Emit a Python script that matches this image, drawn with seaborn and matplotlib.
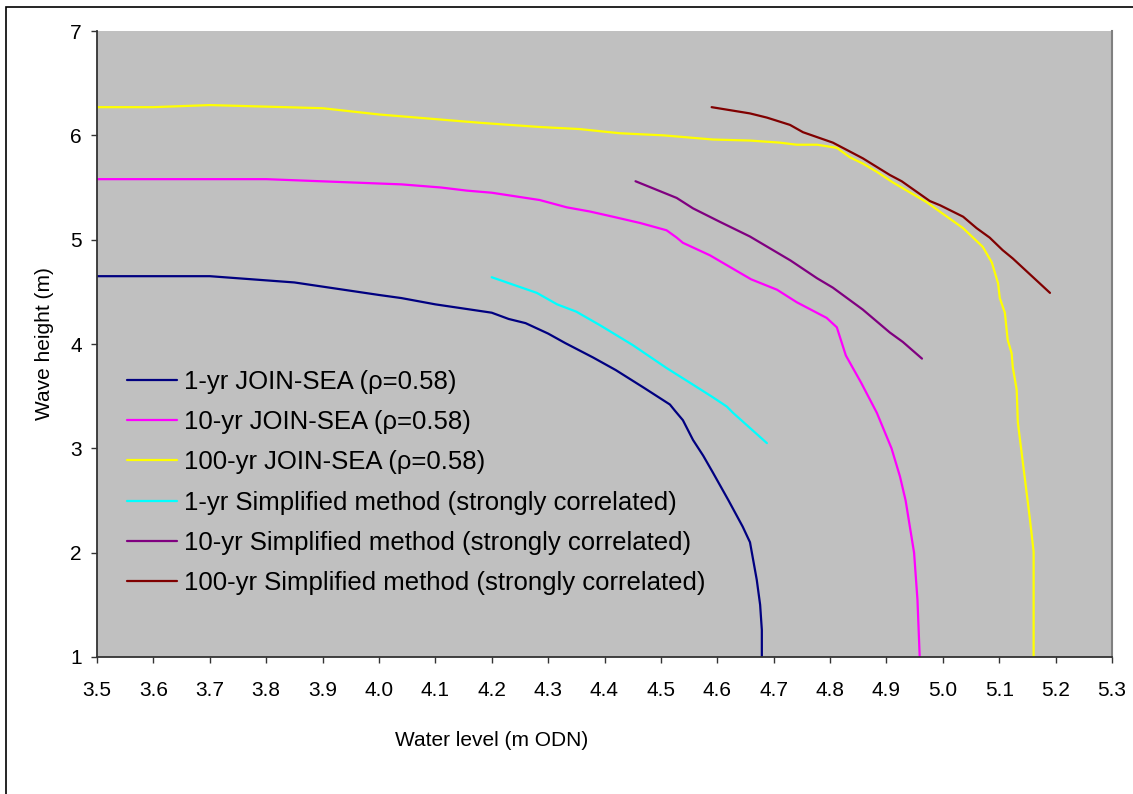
import pandas as pd
import matplotlib.pyplot as plt
import matplotlib.patches as mpatches
import seaborn as sns

# Joint probability contours: water level (m ODN) vs wave height (m)
wl_1yr = [3.50, 3.70, 3.85, 3.90, 4.00, 4.04, 4.10, 4.15, 4.20, 4.23, 4.26, 4.30, 4.33, 4.38,
          4.42, 4.47, 4.516, 4.525, 4.539, 4.557, 4.575, 4.592, 4.62, 4.645, 4.658, 4.670,
          4.676, 4.679, 4.679]
hs_1yr = [4.65, 4.65, 4.59, 4.55, 4.47, 4.44, 4.38, 4.34, 4.30, 4.24, 4.20, 4.10, 4.01, 3.87,
          3.75, 3.58, 3.42, 3.36, 3.27, 3.08, 2.93, 2.77, 2.50, 2.25, 2.10, 1.74,
          1.50, 1.26, 1.00]

wl_10yr = [3.50, 3.70, 3.80, 4.04, 4.11, 4.156, 4.20, 4.285, 4.333, 4.374, 4.415, 4.463, 4.51,
           4.528, 4.539, 4.587, 4.66, 4.706, 4.741, 4.794, 4.812, 4.828, 4.855, 4.883, 4.909,
           4.924, 4.934, 4.949, 4.955, 4.959]
hs_10yr = [5.58, 5.58, 5.58, 5.53, 5.50, 5.47, 5.45, 5.38, 5.31, 5.27, 5.22, 5.16, 5.09,
           5.02, 4.97, 4.85, 4.62, 4.52, 4.40, 4.25, 4.16, 3.89, 3.63, 3.34, 3.00,
           2.73, 2.50, 2.00, 1.55, 1.00]

wl_100yr = [3.50, 3.60, 3.70, 3.90, 4.00, 4.18, 4.285, 4.356, 4.427, 4.504, 4.592, 4.658,
            4.711, 4.741, 4.777, 4.812, 4.835, 4.858, 4.883, 4.911, 4.971, 5.036, 5.071,
            5.087, 5.098, 5.101, 5.11, 5.115, 5.122, 5.124, 5.131, 5.133, 5.145, 5.154,
            5.161, 5.161]
hs_100yr = [6.27, 6.27, 6.29, 6.26, 6.20, 6.12, 6.08, 6.06, 6.02, 6.00, 5.96, 5.95,
            5.93, 5.91, 5.91, 5.88, 5.79, 5.73, 5.65, 5.55, 5.36, 5.11, 4.93,
            4.78, 4.58, 4.44, 4.30, 4.04, 3.91, 3.78, 3.56, 3.25, 2.73, 2.34,
            2.01, 1.00]

wl_1yr_s = [4.20, 4.28, 4.316, 4.35, 4.392, 4.45, 4.51, 4.557, 4.592, 4.617, 4.628, 4.688]
hs_1yr_s = [4.64, 4.49, 4.38, 4.31, 4.18, 3.99, 3.77, 3.61, 3.49, 3.40, 3.34, 3.05]

wl_10yr_s = [4.455, 4.528, 4.557, 4.605, 4.658, 4.73, 4.777, 4.805, 4.858, 4.906, 4.929, 4.963]
hs_10yr_s = [5.56, 5.40, 5.30, 5.17, 5.03, 4.80, 4.63, 4.54, 4.33, 4.11, 4.02, 3.86]

wl_100yr_s = [4.590, 4.658, 4.688, 4.729, 4.752, 4.805, 4.858, 4.906, 4.927, 4.977, 4.995,
              5.036, 5.06, 5.083, 5.106, 5.124, 5.16, 5.19]
hs_100yr_s = [6.27, 6.21, 6.17, 6.10, 6.03, 5.93, 5.78, 5.62, 5.56, 5.37, 5.33,
              5.22, 5.11, 5.02, 4.90, 4.82, 4.64, 4.49]

labels = [
    "1-yr JOIN-SEA (\u03c1=0.58)",
    "10-yr JOIN-SEA (\u03c1=0.58)",
    "100-yr JOIN-SEA (\u03c1=0.58)",
    "1-yr Simplified method (strongly correlated)",
    "10-yr Simplified method (strongly correlated)",
    "100-yr Simplified method (strongly correlated)",
]
colors = ["#000080", "#FF00FF", "#FFFF00", "#00FFFF", "#800080", "#800000"]
x_ticks = [3.5, 3.6, 3.7, 3.8, 3.9, 4.0, 4.1, 4.2, 4.3, 4.4, 4.5, 4.6, 4.7, 4.8, 4.9,
           5.0, 5.1, 5.2, 5.3]
y_ticks = [1, 2, 3, 4, 5, 6, 7]

series = [(wl_1yr, hs_1yr), (wl_10yr, hs_10yr), (wl_100yr, hs_100yr),
          (wl_1yr_s, hs_1yr_s), (wl_10yr_s, hs_10yr_s), (wl_100yr_s, hs_100yr_s)]
frames = []
for lab, (wl, hs) in zip(labels, series):
    frames.append(pd.DataFrame({"wl": wl, "hs": hs, "series": lab}))
df = pd.concat(frames, ignore_index=True)

sns.set_theme(style="white")
plt.rcParams["font.family"] = ["Liberation Sans", "DejaVu Sans"]
plt.rcParams["text.color"] = "black"
plt.rcParams["axes.labelcolor"] = "black"
plt.rcParams["xtick.color"] = "black"
plt.rcParams["ytick.color"] = "black"

fig = plt.figure(figsize=(11.33, 7.94), dpi=100)
ax = fig.add_axes([97 / 1133, 137 / 794, 1015 / 1133, 626 / 794])
ax.set_facecolor("#C0C0C0")

sns.lineplot(data=df, x="wl", y="hs", hue="series", hue_order=labels,
             palette=dict(zip(labels, colors)), sort=False, estimator=None,
             linewidth=1.6, ax=ax)

ax.set_xlim(3.5, 5.3)
ax.set_ylim(1, 7)
ax.set_xticks(x_ticks)
ax.set_xticklabels([f"{v:.1f}" for v in x_ticks])
ax.set_yticks(y_ticks)
ax.tick_params(axis="both", direction="out", length=4, width=1, color="#333333",
               labelsize=15, labelcolor="black", bottom=True, left=True)
ax.tick_params(axis="x", pad=13)
ax.tick_params(axis="y", pad=7)

for side in ["left", "bottom"]:
    ax.spines[side].set_color("#333333")
    ax.spines[side].set_linewidth(1.3)
ax.spines["right"].set_color("#808080")
ax.spines["right"].set_linewidth(1.5)
ax.spines["top"].set_visible(False)

ax.set_xlabel("Water level (m ODN)", fontsize=15, color="black")
ax.set_ylabel("Wave height (m)", fontsize=15, color="black")
ax.xaxis.set_label_coords((492 - 97) / 1015, -0.118)
ax.yaxis.set_label_coords(-0.042, 0.5)

leg = ax.legend(loc="center left", bbox_to_anchor=(30 / 1015, (657 - 482.5) / 626),
                frameon=False, fontsize=18.5, handlelength=1.95, handletextpad=0.25,
                labelspacing=0.63, borderpad=0, borderaxespad=0)
for t in leg.get_texts():
    t.set_color("black")

# outer chart border
fig.patches.append(mpatches.Rectangle((6 / 1133, -0.05), 1.1, (794 - 7) / 794 + 0.05,
                                      transform=fig.transFigure, fill=False,
                                      edgecolor="black", linewidth=1.2))

fig.savefig("out.png", dpi=100)
plt.close(fig)
